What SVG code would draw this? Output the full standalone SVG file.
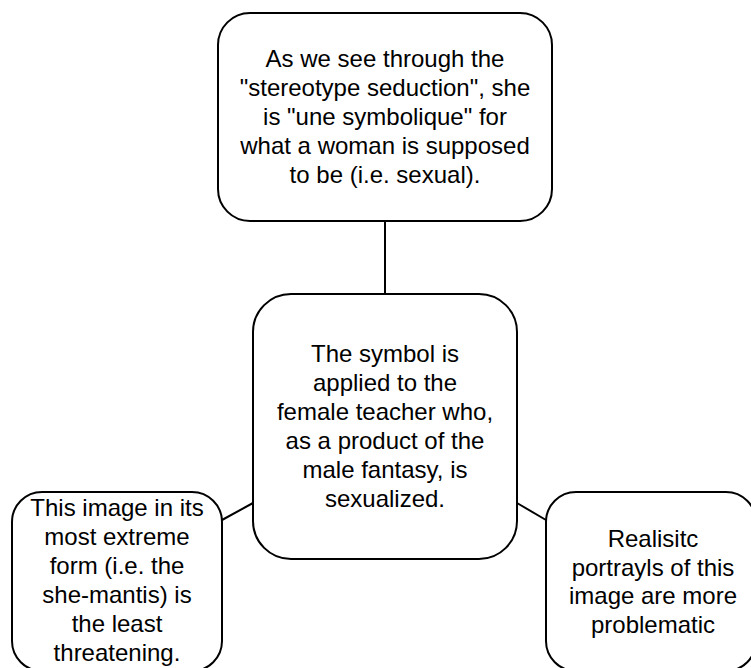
<svg xmlns="http://www.w3.org/2000/svg" width="751" height="668" viewBox="0 0 751 668">
<style>
.box{fill:#fff;stroke:#000;stroke-width:2}
.conn{stroke:#000;stroke-width:2;fill:none}
text{font-family:"Liberation Sans",Arial,sans-serif;font-size:24px;fill:#000;text-anchor:middle}
</style>
<rect width="751" height="668" fill="#fff"/>
<g id="connectors">
<line class="conn" x1="385" y1="221" x2="385" y2="294"/>
<line class="conn" x1="222" y1="520" x2="253" y2="503"/>
<line class="conn" x1="517" y1="503" x2="546" y2="520"/>
</g>
<g id="top">
<rect class="box" x="218" y="13" width="334" height="208" rx="32"/>
<text x="385" y="67">As we see through the</text>
<text x="385" y="96">"stereotype seduction", she</text>
<text x="385" y="125">is "une symbolique" for</text>
<text x="385" y="154">what a woman is supposed</text>
<text x="385" y="183">to be (i.e. sexual).</text>
</g>
<g id="center">
<rect class="box" x="253" y="294" width="264" height="265" rx="38"/>
<text x="385" y="362">The symbol is</text>
<text x="385" y="391">applied to the</text>
<text x="385" y="420">female teacher who,</text>
<text x="385" y="449">as a product of the</text>
<text x="385" y="478">male fantasy, is</text>
<text x="385" y="507">sexualized.</text>
</g>
<g id="left">
<rect class="box" x="12" y="492" width="210" height="179" rx="30"/>
<text x="117" y="516">This image in its</text>
<text x="117" y="545">most extreme</text>
<text x="117" y="574">form (i.e. the</text>
<text x="117" y="603">she-mantis) is</text>
<text x="117" y="632">the least</text>
<text x="117" y="661">threatening.</text>
</g>
<g id="right">
<rect class="box" x="546" y="492" width="210" height="179" rx="30"/>
<text x="653" y="547">Realisitc</text>
<text x="653" y="576">portrayls of this</text>
<text x="653" y="604">image are more</text>
<text x="653" y="633">problematic</text>
</g>
</svg>
